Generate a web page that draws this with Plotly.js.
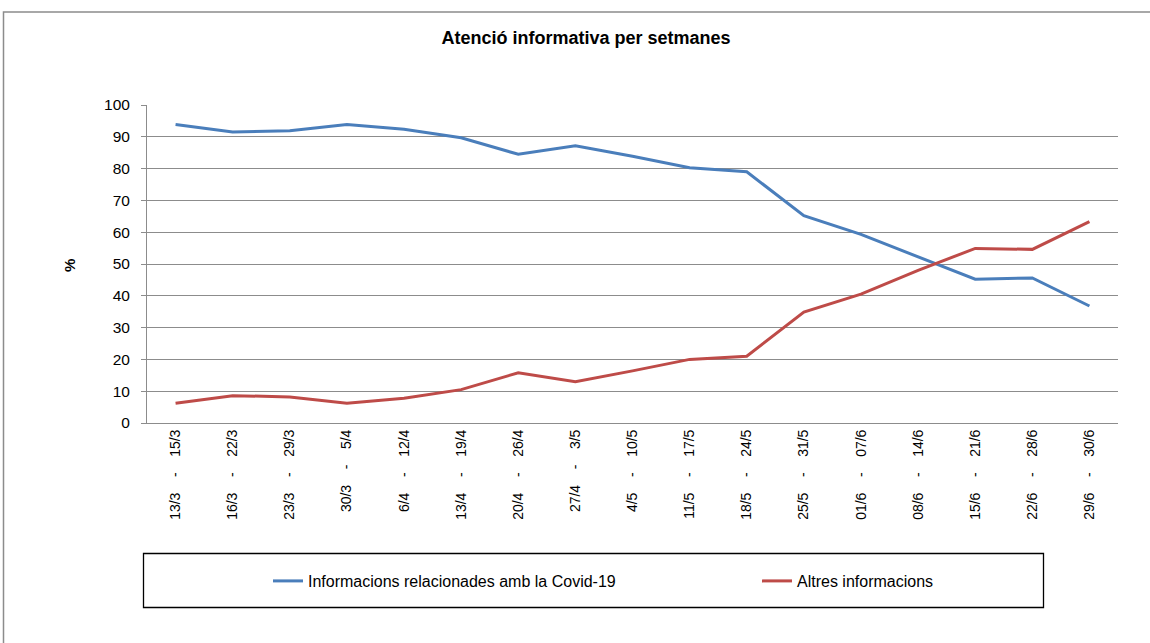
<!DOCTYPE html>
<html>
<head>
<meta charset="utf-8">
<script src="https://cdn.plot.ly/plotly-3.0.1.min.js"></script>
<style>
  body { margin: 0; background: #fff; }
  #chart { width: 1150px; height: 643px; }
</style>
</head>
<body>
<div id="chart"></div>
<script>
// setmanes
var weeks = ['13/3 - 15/3', '16/3 - 22/3', '23/3 - 29/3', '30/3 - 5/4', '6/4 - 12/4',
  '13/4 - 19/4', '20/4 - 26/4', '27/4 - 3/5', '4/5 - 10/5', '11/5 - 17/5',
  '18/5 - 24/5', '25/5 - 31/5', '01/6 - 07/6', '08/6 - 14/6', '15/6 - 21/6',
  '22/6 - 28/6', '29/6 - 30/6'];

var covid = [93.9, 91.5, 91.9, 93.9, 92.4, 89.7, 84.5, 87.2, 83.9, 80.3,
  79.0, 65.2, 59.3, 52.2, 45.2, 45.6, 36.8];
var altres = [6.2, 8.6, 8.2, 6.2, 7.8, 10.5, 15.8, 13.0, 16.4, 20.0,
  21.0, 34.9, 40.5, 48.0, 54.9, 54.6, 63.3];

var seriesNames = ['Informacions relacionades amb la Covid-19', 'Altres informacions'];
var yTicks = [0, 10, 20, 30, 40, 50, 60, 70, 80, 90, 100];

// plot area in pixels, used to place boxes outside it
var L = 147, R = 1118, T = 105, B = 423;
function px(x) { return (x - L) / (R - L); }
function py(y) { return (B - y) / (B - T); }

var sp = '\u00A0\u00A0\u00A0\u00A0';
var tickText = weeks.map(function (w) {
  return w.replace(' - ', sp + '-' + sp);
});

var data = [
  {
    type: 'scatter', mode: 'lines', name: seriesNames[0],
    x: weeks, y: covid, legend: 'legend',
    line: { color: '#4a7ebb', width: 3 }
  },
  {
    type: 'scatter', mode: 'lines', name: seriesNames[1],
    x: weeks, y: altres, legend: 'legend2',
    line: { color: '#be4b48', width: 3 }
  }
];

var legendStyle = {
  orientation: 'h', xanchor: 'left', yanchor: 'middle', y: py(581),
  font: { size: 16 }, bgcolor: 'rgba(0,0,0,0)', borderwidth: 0
};

var layout = {
  width: 1150, height: 643,
  margin: { l: L, r: 1150 - R, t: T, b: 643 - B },
  paper_bgcolor: '#fff', plot_bgcolor: '#fff',
  font: { family: 'Liberation Sans, Arial, sans-serif', color: '#000', size: 13 },
  title: {
    text: '<b>Atenció informativa per setmanes</b>',
    font: { size: 18 },
    x: 586 / 1150, xref: 'container', xanchor: 'center',
    y: 1 - 38 / 643, yref: 'container', yanchor: 'middle'
  },
  xaxis: {
    type: 'category', range: [-0.5, weeks.length - 0.5],
    tickmode: 'array', tickvals: weeks, ticktext: tickText,
    tickangle: -90, tickfont: { size: 14 },
    showgrid: false, showline: true, linecolor: '#8c8c8c', linewidth: 1,
    ticks: '', zeroline: false, automargin: false
  },
  yaxis: {
    range: [0, 100], tickmode: 'array', tickvals: yTicks,
    tickfont: { size: 15.5 },
    showgrid: true, gridcolor: '#8c8c8c', gridwidth: 1,
    showline: true, linecolor: '#8c8c8c', linewidth: 1,
    ticks: 'outside', ticklen: 5, tickcolor: '#8c8c8c',
    ticklabelstandoff: 8, zeroline: false, automargin: false
  },
  showlegend: true,
  legend: Object.assign({}, legendStyle, { x: px(268) }),
  legend2: Object.assign({}, legendStyle, { x: px(757) }),
  annotations: [
    {
      text: '<b>%</b>', xref: 'paper', yref: 'paper',
      x: px(69), y: py(266), xanchor: 'center', yanchor: 'middle',
      showarrow: false, textangle: -90,
      font: { size: 15 }
    }
  ],
  shapes: [
    // marc exterior
    {
      type: 'rect', xref: 'paper', yref: 'paper', layer: 'below',
      x0: px(3.5), x1: px(1170), y0: py(680), y1: py(12),
      line: { color: '#8c8c8c', width: 1.5 }
    },
    // caixa de la llegenda
    {
      type: 'rect', xref: 'paper', yref: 'paper', layer: 'below',
      x0: px(143.5), x1: px(1043.5), y0: py(607.5), y1: py(553.5),
      line: { color: '#000', width: 1.3 }
    }
  ]
};

Plotly.newPlot('chart', data, layout, { displayModeBar: false, staticPlot: true });
</script>
</body>
</html>
